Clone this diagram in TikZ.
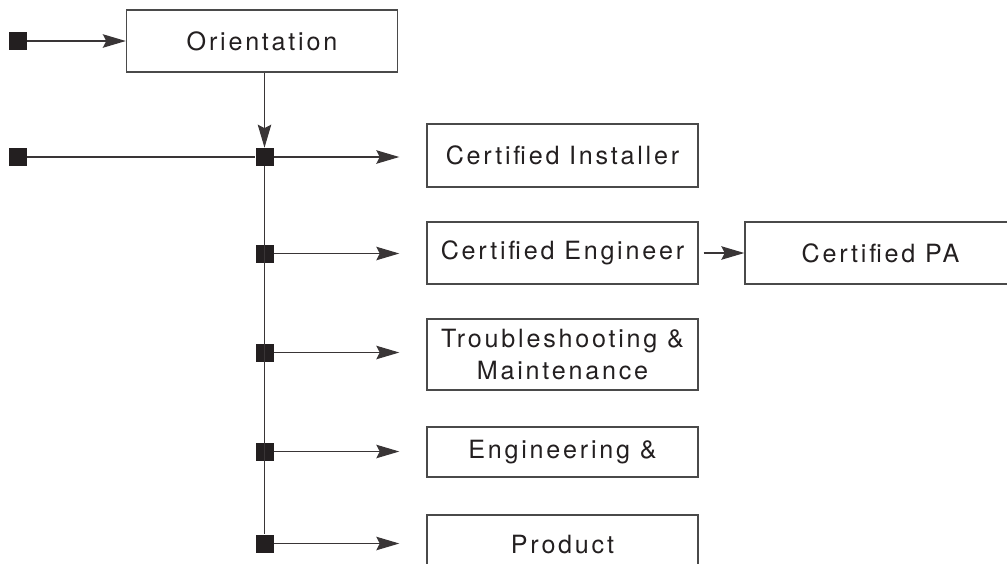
\documentclass[tikz,border=0pt]{standalone}
\usepackage{fontspec}
\setmainfont{TeX Gyre Heros}[LetterSpace=11]
\usetikzlibrary{arrows.meta}
\definecolor{ink}{HTML}{231F20}
\definecolor{rim}{HTML}{4A4A4A}

\begin{document}
\begin{tikzpicture}[x=0.2mm, y=-0.2mm, >={Stealth[length=4.6mm, width=2.7mm, inset=0.7mm]},
  box/.style={draw=rim, line width=0.8pt, minimum width=54.2mm, inner sep=0pt,
    align=center, text=ink, font=\fontsize{14.3}{18.5}\selectfont},
  dot/.style={fill=ink, minimum size=3.6mm, inner sep=0pt},
  link/.style={draw=ink!90, line width=0.7pt}]
  \useasboundingbox (0,0) rectangle (1007,563);
  \clip (0,0) rectangle (1007,563);
  % Course boxes
  \node[box, minimum height=12.4mm] (orient) at (262,41) {Orientation};
  \node[box, minimum height=12.6mm] (install) at (562.5,155.5) {Certified Installer};
  \node[box, minimum height=12.4mm] (engineer) at (562.5,253) {Certified Engineer};
  \node[box, minimum height=12.4mm] (pa) at (880.5,253) {Certified PA};
  \node[box, minimum height=14.2mm] (trouble) at (562.5,354.5) {Troubleshooting \&\\Maintenance};
  \node[box, minimum height=10mm] (enggo) at (562.5,452) {Engineering \&};
  \node[box, minimum height=12mm] (product) at (562.5,545) {Product};
  % Entry points
  \node[dot] (in1) at (18,41) {};
  \node[dot] (in2) at (18,157) {};
  % Junctions on the trunk
  \foreach \y/\n in {157/1, 253.5/2, 352.5/3, 451.5/4, 543.5/5}
    \node[dot] (j\n) at (264.5,\y) {};
  % Connectors
  \draw[link, ->] (in1) -- (orient);
  \draw[link, ->] (orient.south -| j1) -- (j1);
  \draw[link] (in2) -- (j1);
  \draw[link] (j1) -- (j5);
  \foreach \n/\b in {1/install, 2/engineer, 3/trouble, 4/enggo, 5/product}
    \draw[link, ->, shorten >=5.4mm] (j\n) -- (j\n -| \b.west);
  \draw[link, ->, shorten <=1mm] (engineer) -- (pa);
\end{tikzpicture}
\end{document}
